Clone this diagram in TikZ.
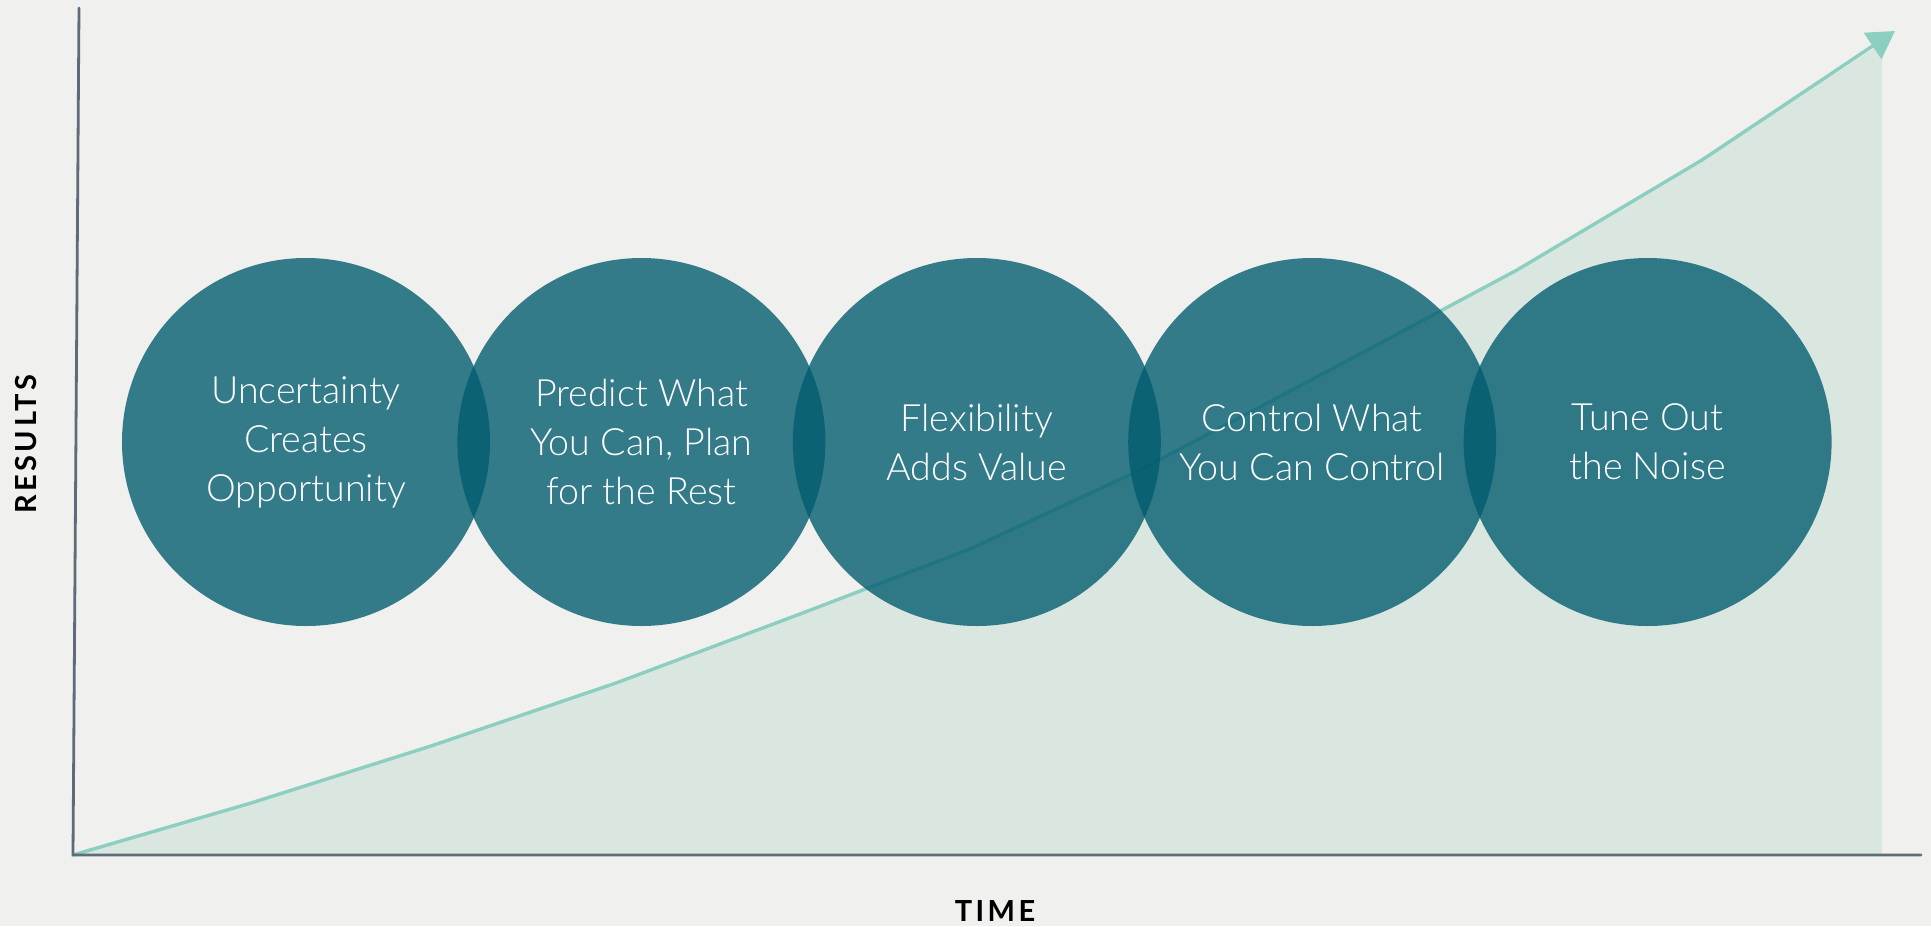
\documentclass[tikz,border=0pt]{standalone}
\usepackage{fontspec}
\setmainfont{Lato}[UprightFont=* Light, BoldFont=* Bold]
\newfontfamily\axisfont{Lato}[UprightFont=* Bold, LetterSpace=12]
\usepackage{tikz}
\usetikzlibrary{positioning, arrows.meta, backgrounds}
\definecolor{bgcol}{HTML}{F0F0EE}
\definecolor{areacol}{HTML}{DAE7E0}
\definecolor{trendcol}{HTML}{8CCEC0}
\definecolor{axiscol}{HTML}{5F6B78}
\definecolor{circcol}{HTML}{005B6F}

\begin{document}
\begin{tikzpicture}[
    x=0.5pt, y=-0.5pt,
    axis/.style={draw=axiscol, line width=1.4pt, line cap=round},
    trend/.style={draw=trendcol, line width=1.7pt, line join=round},
    idea/.style={circle, minimum size=184pt, inner sep=0pt, fill=circcol,
        fill opacity=0.78, text opacity=1, text=white, align=center,
        font=\fontsize{18.8}{24.5}\selectfont},
    axislabel/.style={font=\axisfont\fontsize{14.5}{16}\selectfont, text=black}
]
    % Background
    \fill[bgcol] (0,0) rectangle (1931,926);
    \useasboundingbox (0,0) rectangle (1931,926);

    % Points of the results curve
    \coordinate (origin) at (73,855);
    \coordinate (ytop) at (79,8);
    \coordinate (xend) at (1921,855);
    \coordinate (p1) at (251,803);
    \coordinate (p2) at (431,746);
    \coordinate (p3) at (616,683);
    \coordinate (p4) at (800,614);
    \coordinate (p5) at (970,549);
    \coordinate (p6) at (1140,470);
    \coordinate (p7) at (1330,370);
    \coordinate (p8) at (1517,270);
    \coordinate (p9) at (1702,160);
    \coordinate (tip) at (1895,31);
    \coordinate (edgetop) at (1882,43);
    \coordinate (edgebot) at (1882,855);

    % Shaded area under the curve
    \fill[areacol] (origin) -- (p1) -- (p2) -- (p3) -- (p4) -- (p5) -- (p6)
        -- (p7) -- (p8) -- (p9) -- (edgetop) -- (edgebot) -- cycle;

    % Curve with arrow
    \draw[trend, -{Triangle[length=13.5pt, width=15.5pt]}] (origin) -- (p1) -- (p2)
        -- (p3) -- (p4) -- (p5) -- (p6) -- (p7) -- (p8) -- (p9) -- (tip);

    % Axes
    \draw[axis] (ytop) -- (origin) -- (xend);
    \node[axislabel] (time) at (995,911) {TIME};
    \node[axislabel, rotate=90] (results) at (26,444) {RESULTS};

    % Five overlapping circles
    \node[idea] (uncert) at (306,442) {Uncertainty\\Creates\\Opportunity};
    \node[idea] (predict) at (641.4,442) {Predict What\\You Can, Plan\\for the Rest};
    \node[idea] (flex) at (976.8,442) {Flexibility\\Adds Value};
    \node[idea] (control) at (1312.2,442) {Control What\\You Can Control};
    \node[idea] (noise) at (1647.6,442) {Tune Out\\the Noise};
\end{tikzpicture}
\end{document}
